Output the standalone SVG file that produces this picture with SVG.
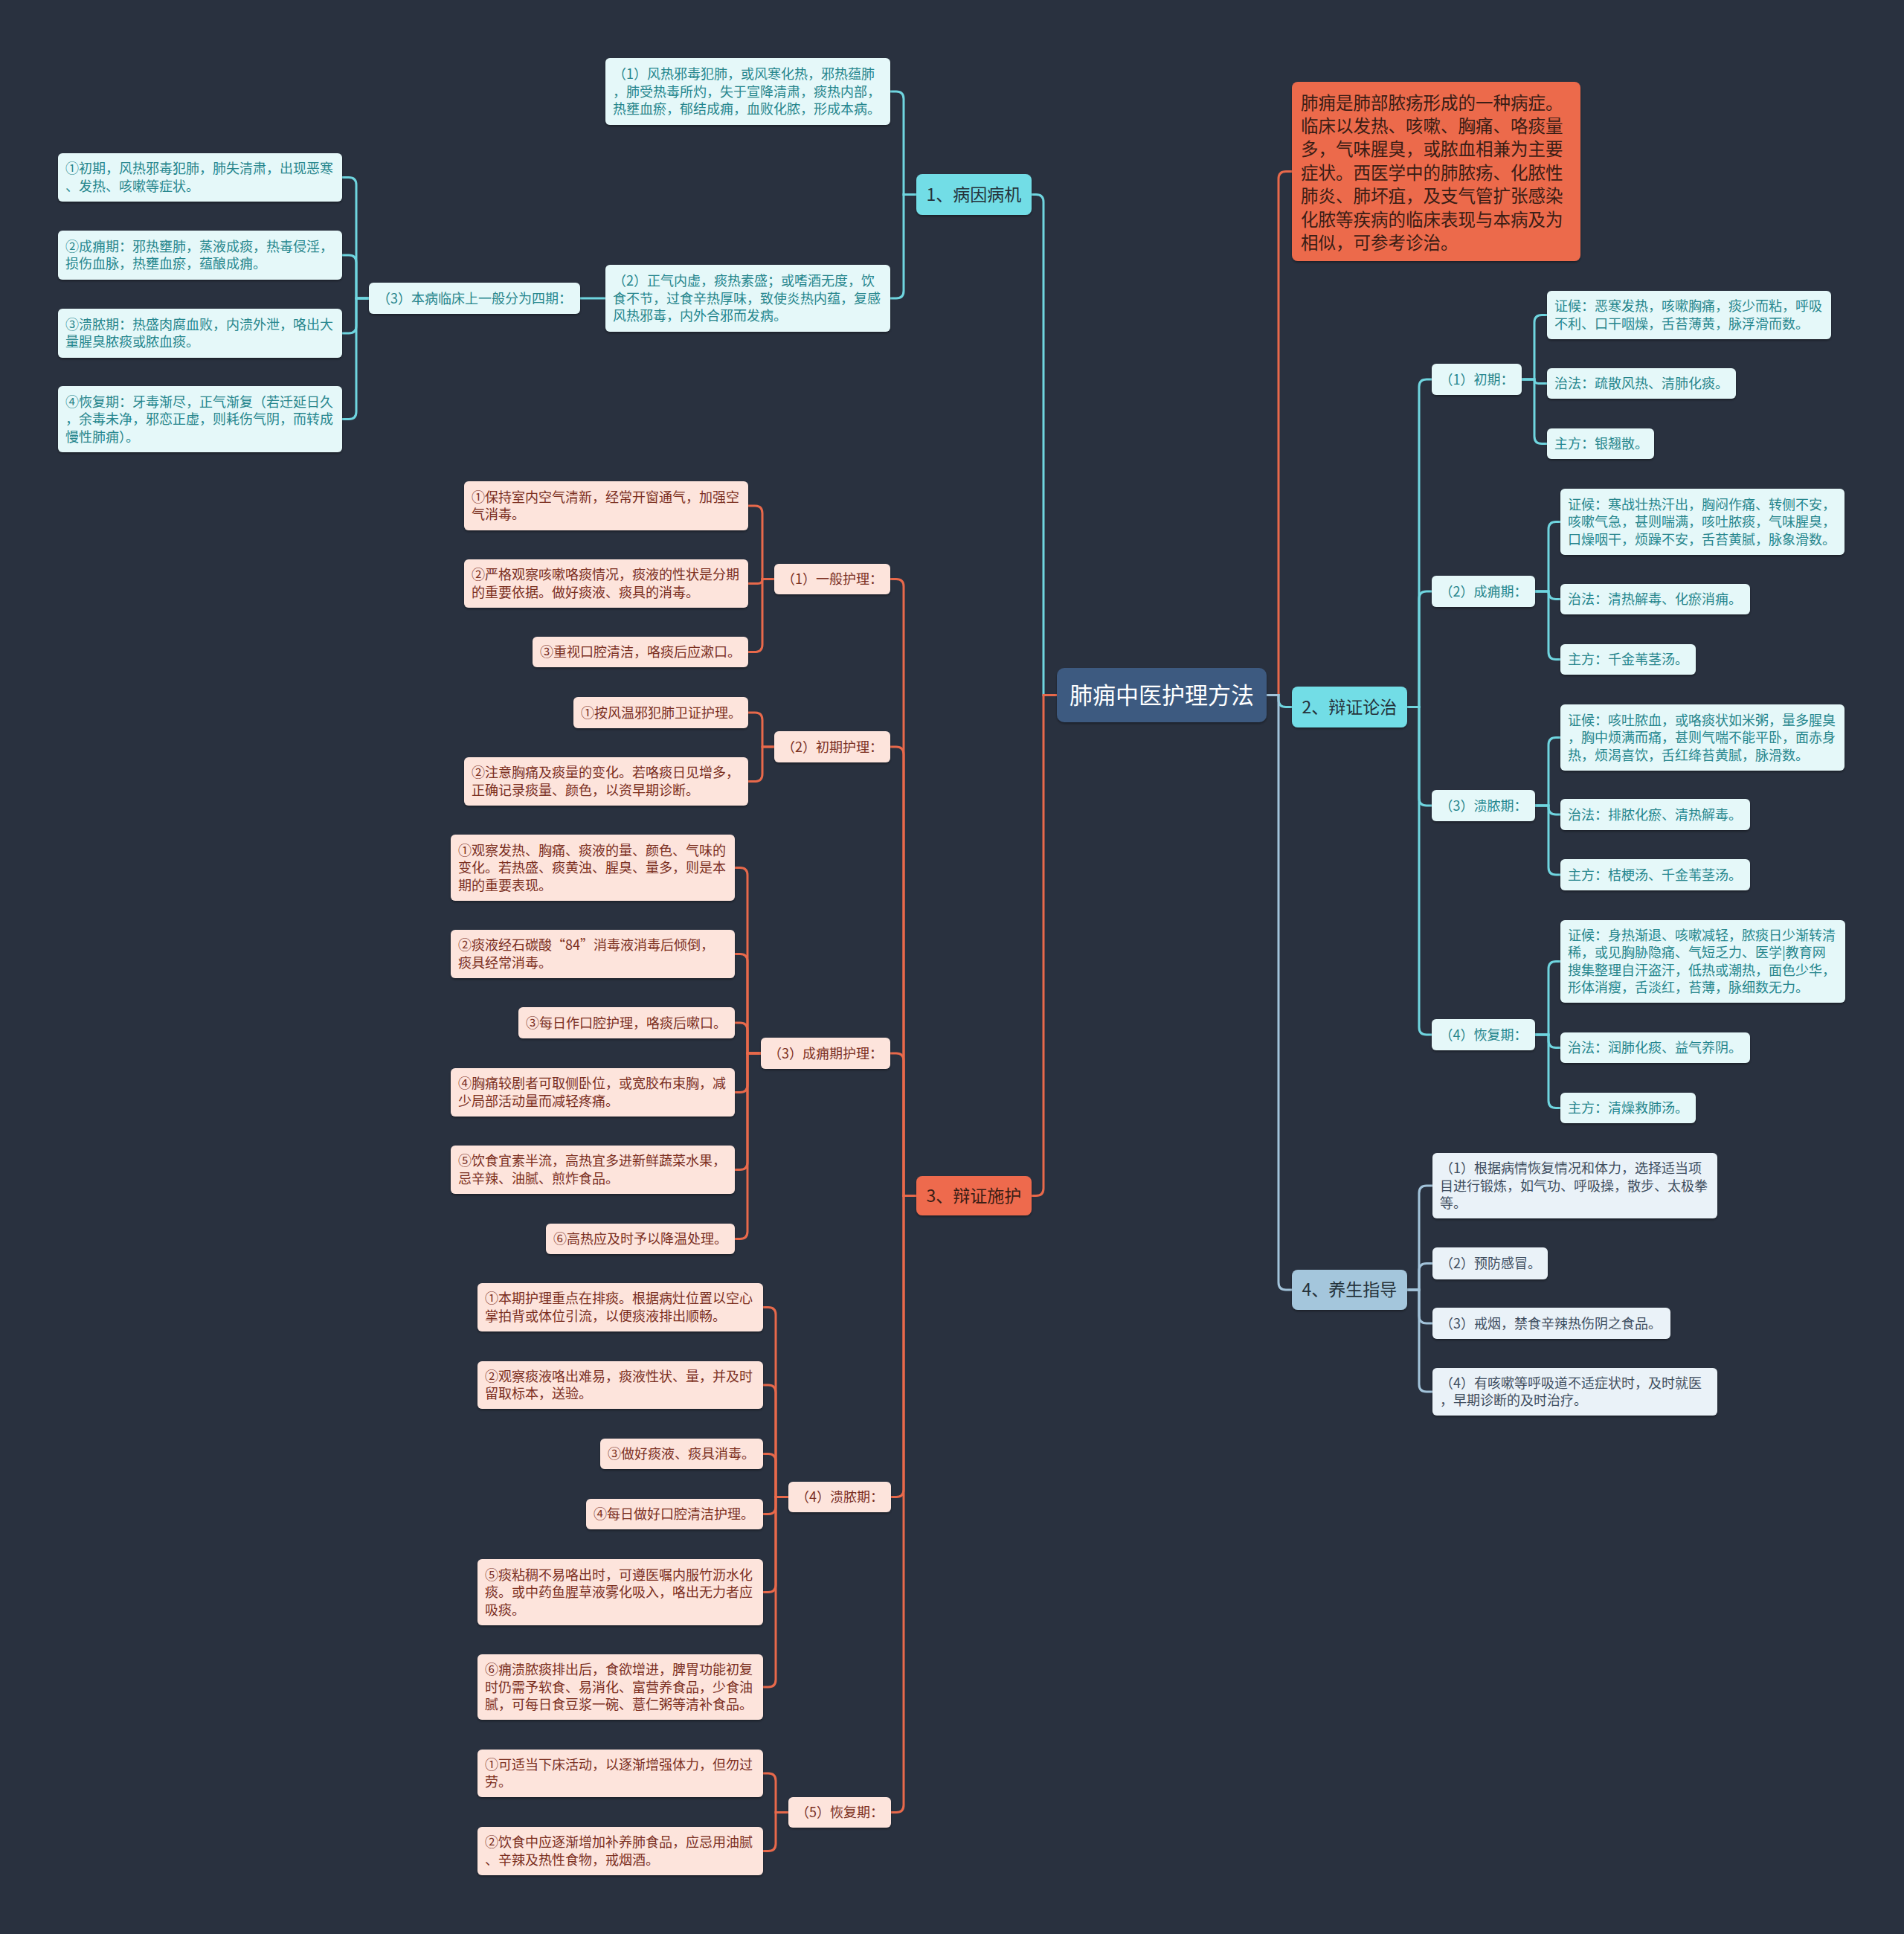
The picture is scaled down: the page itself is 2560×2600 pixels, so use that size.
<svg xmlns="http://www.w3.org/2000/svg" width="2560" height="2600" viewBox="0 0 2560 2600">
<defs>
<filter id="sh" x="-5%" y="-10%" width="110%" height="130%">
<feDropShadow dx="0" dy="2" stdDeviation="1.5" flood-color="#000" flood-opacity="0.35"/>
</filter>
<style>
text{font-family:"Noto Sans CJK SC","Noto Sans",sans-serif;}
.lc{fill:#e5f8f9;filter:url(#sh);}
.lp{fill:#fde4dc;filter:url(#sh);}
.lb{fill:#eaf2f8;filter:url(#sh);}
.lct{fill:#26868d;font-size:18px;}
.lpt{fill:#7b2f1f;font-size:18px;}
.lbt{fill:#3e4d5e;font-size:18px;}
.mid{text-anchor:middle;}
.l1t{font-size:23px;fill:#25323a;text-anchor:middle;}
.c{fill:none;stroke-width:3;}
.cy{stroke:#6fd5df;}
.or{stroke:#e8694b;}
.bl{stroke:#a2c3da;}
</style>
</defs>
<rect x="0" y="0" width="2560" height="2600" fill="#29313f"/>

<g id="connectors">
<path class="c cy" d="M1421,934.5 H1403 V271.5 Q1403,261.5 1393,261.5 H1387"/>
<path class="c or" d="M1421,934.5 H1403 V1597.5 Q1403,1607.5 1393,1607.5 H1387"/>
<path class="c or" d="M1703,934.5 H1719 V240.5 Q1719,230.5 1729,230.5 H1737"/>
<path class="c cy" d="M1703,934.5 H1719 V940.5 Q1719,950.5 1729,950.5 H1737"/>
<path class="c bl" d="M1703,934.5 H1719 V1724 Q1719,1734 1729,1734 H1737"/>

<path class="c cy" d="M1232,261.5 H1215 V133 Q1215,123 1205,123 H1197"/>
<path class="c cy" d="M1232,261.5 H1215 V391 Q1215,401 1205,401 H1197"/>
<path class="c cy" d="M814,401 H780"/>
<path class="c cy" d="M496,401 H479 V248.5 Q479,238.5 469,238.5 H460"/>
<path class="c cy" d="M496,401 H479 V353 Q479,343 469,343 H460"/>
<path class="c cy" d="M496,401 H479 V438 Q479,448 469,448 H460"/>
<path class="c cy" d="M496,401 H479 V553.5 Q479,563.5 469,563.5 H460"/>

<path class="c cy" d="M1892,950.5 H1908 V520 Q1908,510 1918,510 H1925"/>
<path class="c cy" d="M1892,950.5 H1908 V805 Q1908,795 1918,795 H1925"/>
<path class="c cy" d="M1892,950.5 H1908 V1073 Q1908,1083 1918,1083 H1925"/>
<path class="c cy" d="M1892,950.5 H1908 V1381 Q1908,1391 1918,1391 H1925"/>

<path class="c cy" d="M2046,510 H2063 V433.5 Q2063,423.5 2073,423.5 H2080"/>
<path class="c cy" d="M2046,510 H2063 Q2063,515.5 2068.5,515.5 H2080"/>
<path class="c cy" d="M2046,510 H2063 V586.5 Q2063,596.5 2073,596.5 H2080"/>

<path class="c cy" d="M2064,795 H2082 V711.5 Q2082,701.5 2092,701.5 H2098"/>
<path class="c cy" d="M2064,795 H2082 V795.5 Q2082,805.5 2092,805.5 H2098"/>
<path class="c cy" d="M2064,795 H2082 V876.5 Q2082,886.5 2092,886.5 H2098"/>

<path class="c cy" d="M2064,1083 H2082 V1001.5 Q2082,991.5 2092,991.5 H2098"/>
<path class="c cy" d="M2064,1083 H2082 V1085 Q2082,1095 2092,1095 H2098"/>
<path class="c cy" d="M2064,1083 H2082 V1166 Q2082,1176 2092,1176 H2098"/>

<path class="c cy" d="M2064,1391 H2082 V1302.5 Q2082,1292.5 2092,1292.5 H2098"/>
<path class="c cy" d="M2064,1391 H2082 V1398.5 Q2082,1408.5 2092,1408.5 H2098"/>
<path class="c cy" d="M2064,1391 H2082 V1479.5 Q2082,1489.5 2092,1489.5 H2098"/>

<path class="c bl" d="M1892,1734 H1908 V1604 Q1908,1594 1918,1594 H1926"/>
<path class="c bl" d="M1892,1734 H1908 V1708.5 Q1908,1698.5 1918,1698.5 H1926"/>
<path class="c bl" d="M1892,1734 H1908 V1769 Q1908,1779 1918,1779 H1926"/>
<path class="c bl" d="M1892,1734 H1908 V1861 Q1908,1871 1918,1871 H1926"/>

<path class="c or" d="M1232,1607.5 H1215 V788.5 Q1215,778.5 1205,778.5 H1197"/>
<path class="c or" d="M1232,1607.5 H1215 V1014 Q1215,1004 1205,1004 H1197"/>
<path class="c or" d="M1232,1607.5 H1215 V1426 Q1215,1416 1205,1416 H1197"/>
<path class="c or" d="M1232,1607.5 H1215 V2002.5 Q1215,2012.5 1205,2012.5 H1198"/>
<path class="c or" d="M1232,1607.5 H1215 V2426.5 Q1215,2436.5 1205,2436.5 H1198"/>

<path class="c or" d="M1041,778.5 H1025 V690 Q1025,680 1015,680 H1006"/>
<path class="c or" d="M1041,778.5 H1025 Q1025,784.5 1019,784.5 H1006"/>
<path class="c or" d="M1041,778.5 H1025 V866.5 Q1025,876.5 1015,876.5 H1006"/>
<path class="c or" d="M1041,1004 H1025 V968 Q1025,958 1015,958 H1006"/>
<path class="c or" d="M1041,1004 H1025 V1040.5 Q1025,1050.5 1015,1050.5 H1006"/>

<path class="c or" d="M1023,1416 H1005 V1176.5 Q1005,1166.5 995,1166.5 H988"/>
<path class="c or" d="M1023,1416 H1005 V1292.5 Q1005,1282.5 995,1282.5 H988"/>
<path class="c or" d="M1023,1416 H1005 V1385 Q1005,1375 995,1375 H988"/>
<path class="c or" d="M1023,1416 H1005 V1458.5 Q1005,1468.5 995,1468.5 H988"/>
<path class="c or" d="M1023,1416 H1005 V1562.5 Q1005,1572.5 995,1572.5 H988"/>
<path class="c or" d="M1023,1416 H1005 V1655.5 Q1005,1665.5 995,1665.5 H988"/>

<path class="c or" d="M1060,2012.5 H1043 V1767.5 Q1043,1757.5 1033,1757.5 H1026"/>
<path class="c or" d="M1060,2012.5 H1043 V1872 Q1043,1862 1033,1862 H1026"/>
<path class="c or" d="M1060,2012.5 H1043 V1964.5 Q1043,1954.5 1033,1954.5 H1026"/>
<path class="c or" d="M1060,2012.5 H1043 V2025.5 Q1043,2035.5 1033,2035.5 H1026"/>
<path class="c or" d="M1060,2012.5 H1043 V2130.5 Q1043,2140.5 1033,2140.5 H1026"/>
<path class="c or" d="M1060,2012.5 H1043 V2258 Q1043,2268 1033,2268 H1026"/>
<path class="c or" d="M1060,2436.5 H1043 V2394 Q1043,2384 1033,2384 H1026"/>
<path class="c or" d="M1060,2436.5 H1043 V2478.5 Q1043,2488.5 1033,2488.5 H1026"/>
</g>

<g id="root">
<rect x="1421" y="898" width="282" height="73" rx="10" fill="#3d5a80" filter="url(#sh)"/>
<text x="1562" y="945.5" class="mid" font-size="31" fill="#ffffff">肺痈中医护理方法</text>
</g>

<g id="desc">
<rect x="1737" y="110" width="388" height="241" rx="8" fill="#ec6a4c" filter="url(#sh)"/>
<text font-size="23.5" fill="#3a1d15">
<tspan x="1749" y="146.5">肺痈是肺部脓疡形成的一种病症。</tspan>
<tspan x="1749" y="177.9">临床以发热、咳嗽、胸痛、咯痰量</tspan>
<tspan x="1749" y="209.3">多，气味腥臭，或脓血相兼为主要</tspan>
<tspan x="1749" y="240.7">症状。西医学中的肺脓疡、化脓性</tspan>
<tspan x="1749" y="272.1">肺炎、肺坏疽，及支气管扩张感染</tspan>
<tspan x="1749" y="303.5">化脓等疾病的临床表现与本病及为</tspan>
<tspan x="1749" y="334.9">相似，可参考诊治。</tspan>
</text>
</g>

<g id="n1">
<rect x="1232" y="234" width="155" height="55" rx="8" fill="#72dde6" filter="url(#sh)"/>
<text x="1309.5" y="269.8" class="l1t">1、病因病机</text>
</g>
<g id="n1-1">
<rect class="lc" x="814" y="78" width="383" height="90" rx="6"/>
<text class="lct"><tspan x="824" y="106">（1）风热邪毒犯肺，或风寒化热，邪热蕴肺</tspan><tspan x="824" y="129.5">，肺受热毒所灼，失于宣降清肃，痰热内部，</tspan><tspan x="824" y="153">热壅血瘀，郁结成痈，血败化脓，形成本病。</tspan></text>
</g>
<g id="n1-2">
<rect class="lc" x="814" y="356" width="383" height="90" rx="6"/>
<text class="lct"><tspan x="824" y="384">（2）正气内虚，痰热素盛；或嗜酒无度，饮</tspan><tspan x="824" y="407.5">食不节，过食辛热厚味，致使炎热内蕴，复感</tspan><tspan x="824" y="431">风热邪毒，内外合邪而发病。</tspan></text>
</g>
<g id="n1-3">
<rect class="lc" x="496" y="380" width="284" height="42" rx="6"/>
<text class="lct mid" x="638" y="407.5">（3）本病临床上一般分为四期：</text>
</g>
<g id="n1-3-1">
<rect class="lc" x="78" y="206" width="382" height="65" rx="6"/>
<text class="lct"><tspan x="88" y="233.25">①初期，风热邪毒犯肺，肺失清肃，出现恶寒</tspan><tspan x="88" y="256.75">、发热、咳嗽等症状。</tspan></text>
</g>
<g id="n1-3-2">
<rect class="lc" x="78" y="310" width="382" height="66" rx="6"/>
<text class="lct"><tspan x="88" y="337.75">②成痈期：邪热壅肺，蒸液成痰，热毒侵淫，</tspan><tspan x="88" y="361.25">损伤血脉，热壅血瘀，蕴酿成痈。</tspan></text>
</g>
<g id="n1-3-3">
<rect class="lc" x="78" y="415" width="382" height="66" rx="6"/>
<text class="lct"><tspan x="88" y="442.75">③溃脓期：热盛肉腐血败，内溃外泄，咯出大</tspan><tspan x="88" y="466.25">量腥臭脓痰或脓血痰。</tspan></text>
</g>
<g id="n1-3-4">
<rect class="lc" x="78" y="519" width="382" height="89" rx="6"/>
<text class="lct"><tspan x="88" y="546.5">④恢复期：牙毒渐尽，正气渐复（若迁延日久</tspan><tspan x="88" y="570">，余毒未净，邪恋正虚，则耗伤气阴，而转成</tspan><tspan x="88" y="593.5">慢性肺痈）。</tspan></text>
</g>

<g id="n2">
<rect x="1737" y="923" width="155" height="55" rx="8" fill="#72dde6" filter="url(#sh)"/>
<text x="1814.5" y="958.8" class="l1t">2、辩证论治</text>
</g>
<g id="n2-1">
<rect class="lc" x="1925" y="489" width="121" height="42" rx="6"/>
<text class="lct mid" x="1985.5" y="516.5">（1）初期：</text>
</g>
<g id="n2-1-1">
<rect class="lc" x="2080" y="391" width="382" height="65" rx="6"/>
<text class="lct"><tspan x="2090" y="418.25">证候：恶寒发热，咳嗽胸痛，痰少而粘，呼吸</tspan><tspan x="2090" y="441.75">不利、口干咽燥，舌苔薄黄，脉浮滑而数。</tspan></text>
</g>
<g id="n2-1-2">
<rect class="lc" x="2080" y="495" width="254" height="41" rx="6"/>
<text class="lct" x="2090" y="522">治法：疏散风热、清肺化痰。</text>
</g>
<g id="n2-1-3">
<rect class="lc" x="2080" y="576" width="144" height="41" rx="6"/>
<text class="lct" x="2090" y="603">主方：银翘散。</text>
</g>
<g id="n2-2">
<rect class="lc" x="1925" y="774" width="139" height="42" rx="6"/>
<text class="lct mid" x="1994.5" y="801.5">（2）成痈期：</text>
</g>
<g id="n2-2-1">
<rect class="lc" x="2098" y="657" width="382" height="89" rx="6"/>
<text class="lct"><tspan x="2108" y="684.5">证候：寒战壮热汗出，胸闷作痛、转侧不安，</tspan><tspan x="2108" y="708">咳嗽气急，甚则喘满，咳吐脓痰，气味腥臭，</tspan><tspan x="2108" y="731.5">口燥咽干，烦躁不安，舌苔黄腻，脉象滑数。</tspan></text>
</g>
<g id="n2-2-2">
<rect class="lc" x="2098" y="785" width="255" height="41" rx="6"/>
<text class="lct" x="2108" y="812">治法：清热解毒、化瘀消痈。</text>
</g>
<g id="n2-2-3">
<rect class="lc" x="2098" y="866" width="182" height="41" rx="6"/>
<text class="lct" x="2108" y="893">主方：千金苇茎汤。</text>
</g>
<g id="n2-3">
<rect class="lc" x="1925" y="1062" width="139" height="42" rx="6"/>
<text class="lct mid" x="1994.5" y="1089.5">（3）溃脓期：</text>
</g>
<g id="n2-3-1">
<rect class="lc" x="2098" y="947" width="382" height="89" rx="6"/>
<text class="lct"><tspan x="2108" y="974.5">证候：咳吐脓血，或咯痰状如米粥，量多腥臭</tspan><tspan x="2108" y="998">，胸中烦满而痛，甚则气喘不能平卧，面赤身</tspan><tspan x="2108" y="1021.5">热，烦渴喜饮，舌红绛苔黄腻，脉滑数。</tspan></text>
</g>
<g id="n2-3-2">
<rect class="lc" x="2098" y="1074" width="255" height="42" rx="6"/>
<text class="lct" x="2108" y="1101.5">治法：排脓化瘀、清热解毒。</text>
</g>
<g id="n2-3-3">
<rect class="lc" x="2098" y="1155" width="255" height="42" rx="6"/>
<text class="lct" x="2108" y="1182.5">主方：桔梗汤、千金苇茎汤。</text>
</g>
<g id="n2-4">
<rect class="lc" x="1925" y="1370" width="139" height="42" rx="6"/>
<text class="lct mid" x="1994.5" y="1397.5">（4）恢复期：</text>
</g>
<g id="n2-4-1">
<rect class="lc" x="2098" y="1237" width="383" height="111" rx="6"/>
<text class="lct"><tspan x="2108" y="1263.75">证候：身热渐退、咳嗽减轻，脓痰日少渐转清</tspan><tspan x="2108" y="1287.25">稀，或见胸胁隐痛、气短乏力、医学|教育网</tspan><tspan x="2108" y="1310.75">搜集整理自汗盗汗，低热或潮热，面色少华，</tspan><tspan x="2108" y="1334.25">形体消瘦，舌淡红，苔薄，脉细数无力。</tspan></text>
</g>
<g id="n2-4-2">
<rect class="lc" x="2098" y="1388" width="255" height="41" rx="6"/>
<text class="lct" x="2108" y="1415">治法：润肺化痰、益气养阴。</text>
</g>
<g id="n2-4-3">
<rect class="lc" x="2098" y="1469" width="182" height="41" rx="6"/>
<text class="lct" x="2108" y="1496">主方：清燥救肺汤。</text>
</g>

<g id="n4">
<rect x="1737" y="1707" width="155" height="54" rx="8" fill="#a4c6dc" filter="url(#sh)"/>
<text x="1814.5" y="1742.3" class="l1t">4、养生指导</text>
</g>
<g id="n4-1">
<rect class="lb" x="1926" y="1550" width="383" height="88" rx="6"/>
<text class="lbt"><tspan x="1936" y="1577">（1）根据病情恢复情况和体力，选择适当项</tspan><tspan x="1936" y="1600.5">目进行锻炼，如气功、呼吸操，散步、太极拳</tspan><tspan x="1936" y="1624">等。</tspan></text>
</g>
<g id="n4-2">
<rect class="lb" x="1926" y="1677" width="155" height="43" rx="6"/>
<text class="lbt" x="1936" y="1705">（2）预防感冒。</text>
</g>
<g id="n4-3">
<rect class="lb" x="1926" y="1758" width="320" height="42" rx="6"/>
<text class="lbt" x="1936" y="1785.5">（3）戒烟，禁食辛辣热伤阴之食品。</text>
</g>
<g id="n4-4">
<rect class="lb" x="1926" y="1839" width="383" height="64" rx="6"/>
<text class="lbt"><tspan x="1936" y="1865.75">（4）有咳嗽等呼吸道不适症状时，及时就医</tspan><tspan x="1936" y="1889.25">，早期诊断的及时治疗。</tspan></text>
</g>

<g id="n3">
<rect x="1232" y="1581" width="155" height="53" rx="8" fill="#ee6b4d" filter="url(#sh)"/>
<text x="1309.5" y="1615.8" class="l1t" style="fill:#3a1d15">3、辩证施护</text>
</g>
<g id="n3-1">
<rect class="lp" x="1041" y="758" width="156" height="41" rx="6"/>
<text class="lpt mid" x="1119" y="785">（1）一般护理：</text>
</g>
<g id="n3-1-1">
<rect class="lp" x="624" y="647" width="382" height="66" rx="6"/>
<text class="lpt"><tspan x="634" y="674.75">①保持室内空气清新，经常开窗通气，加强空</tspan><tspan x="634" y="698.25">气消毒。</tspan></text>
</g>
<g id="n3-1-2">
<rect class="lp" x="624" y="752" width="382" height="65" rx="6"/>
<text class="lpt"><tspan x="634" y="779.25">②严格观察咳嗽咯痰情况，痰液的性状是分期</tspan><tspan x="634" y="802.75">的重要依据。做好痰液、痰具的消毒。</tspan></text>
</g>
<g id="n3-1-3">
<rect class="lp" x="716" y="856" width="290" height="41" rx="6"/>
<text class="lpt" x="726" y="883">③重视口腔清洁，咯痰后应漱口。</text>
</g>
<g id="n3-2">
<rect class="lp" x="1041" y="983" width="156" height="42" rx="6"/>
<text class="lpt mid" x="1119" y="1010.5">（2）初期护理：</text>
</g>
<g id="n3-2-1">
<rect class="lp" x="771" y="937" width="235" height="42" rx="6"/>
<text class="lpt" x="781" y="964.5">①按风温邪犯肺卫证护理。</text>
</g>
<g id="n3-2-2">
<rect class="lp" x="624" y="1018" width="382" height="65" rx="6"/>
<text class="lpt"><tspan x="634" y="1045.25">②注意胸痛及痰量的变化。若咯痰日见增多，</tspan><tspan x="634" y="1068.75">正确记录痰量、颜色，以资早期诊断。</tspan></text>
</g>
<g id="n3-3">
<rect class="lp" x="1023" y="1395" width="174" height="42" rx="6"/>
<text class="lpt mid" x="1110" y="1422.5">（3）成痈期护理：</text>
</g>
<g id="n3-3-1">
<rect class="lp" x="606" y="1122" width="382" height="89" rx="6"/>
<text class="lpt"><tspan x="616" y="1149.5">①观察发热、胸痛、痰液的量、颜色、气味的</tspan><tspan x="616" y="1173">变化。若热盛、痰黄浊、腥臭、量多，则是本</tspan><tspan x="616" y="1196.5">期的重要表现。</tspan></text>
</g>
<g id="n3-3-2">
<rect class="lp" x="606" y="1250" width="382" height="65" rx="6"/>
<text class="lpt"><tspan x="616" y="1277.25">②痰液经石碳酸“84”消毒液消毒后倾倒，</tspan><tspan x="616" y="1300.75">痰具经常消毒。</tspan></text>
</g>
<g id="n3-3-3">
<rect class="lp" x="697" y="1354" width="291" height="42" rx="6"/>
<text class="lpt" x="707" y="1381.5">③每日作口腔护理，咯痰后嗽口。</text>
</g>
<g id="n3-3-4">
<rect class="lp" x="606" y="1436" width="382" height="65" rx="6"/>
<text class="lpt"><tspan x="616" y="1463.25">④胸痛较剧者可取侧卧位，或宽胶布束胸，减</tspan><tspan x="616" y="1486.75">少局部活动量而减轻疼痛。</tspan></text>
</g>
<g id="n3-3-5">
<rect class="lp" x="606" y="1540" width="382" height="65" rx="6"/>
<text class="lpt"><tspan x="616" y="1567.25">⑤饮食宜素半流，高热宜多进新鲜蔬菜水果，</tspan><tspan x="616" y="1590.75">忌辛辣、油腻、煎炸食品。</tspan></text>
</g>
<g id="n3-3-6">
<rect class="lp" x="734" y="1645" width="254" height="41" rx="6"/>
<text class="lpt" x="744" y="1672">⑥高热应及时予以降温处理。</text>
</g>
<g id="n3-4">
<rect class="lp" x="1060" y="1992" width="138" height="41" rx="6"/>
<text class="lpt mid" x="1129" y="2019">（4）溃脓期：</text>
</g>
<g id="n3-4-1">
<rect class="lp" x="642" y="1725" width="384" height="65" rx="6"/>
<text class="lpt"><tspan x="652" y="1752.25">①本期护理重点在排痰。根据病灶位置以空心</tspan><tspan x="652" y="1775.75">掌拍背或体位引流，以便痰液排出顺畅。</tspan></text>
</g>
<g id="n3-4-2">
<rect class="lp" x="642" y="1830" width="384" height="64" rx="6"/>
<text class="lpt"><tspan x="652" y="1856.75">②观察痰液咯出难易，痰液性状、量，并及时</tspan><tspan x="652" y="1880.25">留取标本，送验。</tspan></text>
</g>
<g id="n3-4-3">
<rect class="lp" x="807" y="1934" width="219" height="41" rx="6"/>
<text class="lpt" x="817" y="1961">③做好痰液、痰具消毒。</text>
</g>
<g id="n3-4-4">
<rect class="lp" x="788" y="2015" width="238" height="41" rx="6"/>
<text class="lpt" x="798" y="2042">④每日做好口腔清洁护理。</text>
</g>
<g id="n3-4-5">
<rect class="lp" x="642" y="2096" width="384" height="89" rx="6"/>
<text class="lpt"><tspan x="652" y="2123.5">⑤痰粘稠不易咯出时，可遵医嘱内服竹沥水化</tspan><tspan x="652" y="2147">痰。或中药鱼腥草液雾化吸入，咯出无力者应</tspan><tspan x="652" y="2170.5">吸痰。</tspan></text>
</g>
<g id="n3-4-6">
<rect class="lp" x="642" y="2224" width="384" height="88" rx="6"/>
<text class="lpt"><tspan x="652" y="2251">⑥痈溃脓痰排出后，食欲增进，脾胃功能初复</tspan><tspan x="652" y="2274.5">时仍需予软食、易消化、富营养食品，少食油</tspan><tspan x="652" y="2298">腻，可每日食豆浆一碗、薏仁粥等清补食品。</tspan></text>
</g>
<g id="n3-5">
<rect class="lp" x="1060" y="2416" width="138" height="41" rx="6"/>
<text class="lpt mid" x="1129" y="2443">（5）恢复期：</text>
</g>
<g id="n3-5-1">
<rect class="lp" x="642" y="2352" width="384" height="64" rx="6"/>
<text class="lpt"><tspan x="652" y="2378.75">①可适当下床活动，以逐渐增强体力，但勿过</tspan><tspan x="652" y="2402.25">劳。</tspan></text>
</g>
<g id="n3-5-2">
<rect class="lp" x="642" y="2456" width="384" height="65" rx="6"/>
<text class="lpt"><tspan x="652" y="2483.25">②饮食中应逐渐增加补养肺食品，应忌用油腻</tspan><tspan x="652" y="2506.75">、辛辣及热性食物，戒烟酒。</tspan></text>
</g>
</svg>
